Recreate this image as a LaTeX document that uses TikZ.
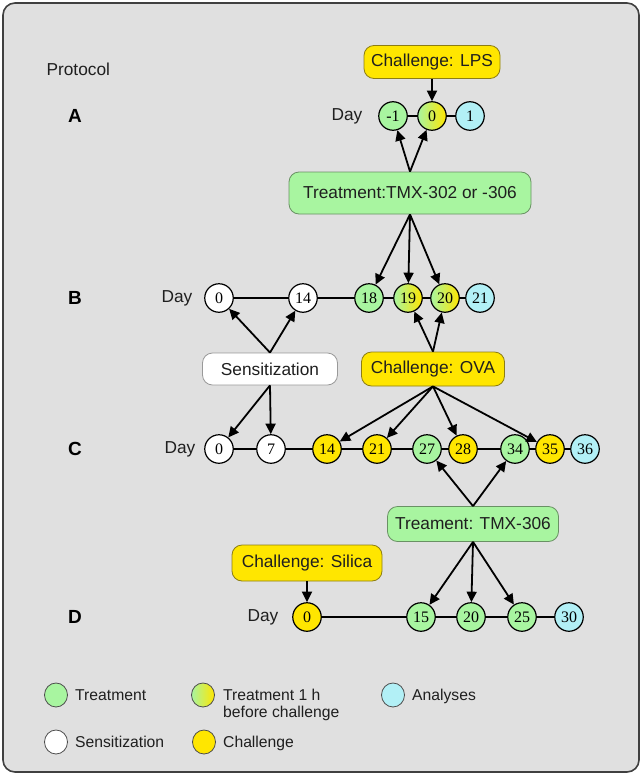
\documentclass[tikz,border=0pt]{standalone}
\usepackage{fontspec}
\setmainfont{Liberation Sans}
\newfontfamily\numfont{Liberation Serif}
\usetikzlibrary{positioning,arrows.meta,shapes.geometric}

\definecolor{treatgreen}{RGB}{168,245,160}
\definecolor{chalyellow}{RGB}{255,230,0}
\definecolor{anacyan}{RGB}{178,240,246}
\definecolor{panelgray}{RGB}{224,224,224}

\begin{document}
\begin{tikzpicture}[x=1pt, y=-1pt, on grid,
    txt/.style = {font=\fontsize{17.3}{20}\selectfont, text=black!88},
    keytxt/.style = {font=\fontsize{15.7}{16.5}\selectfont, text=black!88, inner sep=0pt, align=left},
    lbl/.style = {font=\bfseries\fontsize{19}{22}\selectfont},
    day/.style = {circle, draw, line width=1.2pt, minimum size=28.5pt, inner sep=0pt,
                  font=\numfont\fontsize{16}{16}\selectfont},
    trt/.style = {day, fill=treatgreen},
    chl/.style = {day, fill=chalyellow},
    ana/.style = {day, fill=anacyan},
    sns/.style = {day, fill=white},
    mix/.style = {day, left color=treatgreen, right color=chalyellow},
    box/.style = {txt, rounded corners=10pt, line width=0.8pt, inner sep=0pt},
    greenbox/.style = {box, fill=treatgreen, draw={rgb,255:red,105;green,145;blue,100}},
    yellowbox/.style = {box, fill=chalyellow, draw={rgb,255:red,140;green,125;blue,20}},
    whitebox/.style = {box, fill=white, draw=black!40},
    line/.style = {line width=2pt},
    arr/.style = {line width=1.8pt, -{Triangle[length=10.5pt,width=10pt]}},
    key/.style = {ellipse, draw=black!70, line width=0.8pt, minimum width=23pt,
                  minimum height=24pt, inner sep=0pt},
  ]
    \useasboundingbox (0,0) rectangle (642,776);
    \draw[fill=panelgray, draw=black!75, line width=1.6pt, rounded corners=12pt]
      (3,3) rectangle (639,772);

    \node[txt, anchor=west] (prot) at (43,69) {Protocol};
    \node[lbl] (la) at (75,116) {A};
    \node[lbl] (lb) at (75,298) {B};
    \node[lbl] (lc) at (75,449) {C};
    \node[lbl] (ld) at (75,617) {D};

    \node[trt] (a1) at (393,116) {-1};
    \node[mix, right = 39pt of a1] (a2) {0};
    \node[ana, right = 38pt of a2] (a3) {1};
    \node[txt, left = 46pt of a1] (aday) {Day};

    \node[sns] (b0) at (219,298) {0};
    \node[sns, right = 84pt of b0] (b14) {14};
    \node[trt, right = 66pt of b14] (b18) {18};
    \node[mix, right = 39pt of b18] (b19) {19};
    \node[mix, right = 37pt of b19] (b20) {20};
    \node[ana, right = 35pt of b20] (b21) {21};
    \node[txt, left = 42pt of b0] (bday) {Day};

    \node[sns] (c0) at (219,449) {0};
    \node[sns, right = 52pt of c0] (c7) {7};
    \node[chl, right = 56pt of c7] (c14) {14};
    \node[chl, right = 50pt of c14] (c21) {21};
    \node[trt, right = 50pt of c21] (c27) {27};
    \node[chl, right = 36pt of c27] (c28) {28};
    \node[trt, right = 52pt of c28] (c34) {34};
    \node[chl, right = 35pt of c34] (c35) {35};
    \node[ana, right = 35pt of c35] (c36) {36};
    \node[txt, left = 39pt of c0] (cday) {Day};

    \node[chl] (d0) at (307,617) {0};
    \node[trt, right = 114pt of d0] (d15) {15};
    \node[trt, right = 50pt of d15] (d20) {20};
    \node[trt, right = 51pt of d20] (d25) {25};
    \node[ana, right = 47pt of d25] (d30) {30};
    \node[txt, left = 44pt of d0] (dday) {Day};

    \node[yellowbox, minimum width=136pt, minimum height=33pt] (lps) at (432,62) {Challenge: LPS};
    \node[greenbox, minimum width=242pt, minimum height=42pt] (tra) at (410,193) {Treatment:TMX-302 or -306};
    \node[whitebox, minimum width=135pt, minimum height=32pt] (sens) at (270,369) {Sensitization};
    \node[yellowbox, minimum width=143pt, minimum height=34pt] (ova) at (433,369) {Challenge: OVA};
    \node[greenbox, minimum width=171pt, minimum height=35pt] (tmx) at (473,524) {Treament: TMX-306};
    \node[yellowbox, minimum width=150pt, minimum height=36pt] (sil) at (307,563) {Challenge: Silica};

    \draw[line] (a1) -- (a2) -- (a3);
    \draw[line] (b0) -- (b14) -- (b18) -- (b19) -- (b20) -- (b21);
    \draw[line] (c0) -- (c7) -- (c14) -- (c21) -- (c27) -- (c28) -- (c34) -- (c35) -- (c36);
    \draw[line] (d0) -- (d15) -- (d20) -- (d25) -- (d30);

    \draw[arr] (lps) -- (a2);
    \draw[arr] (tra.north) -- (a1);
    \draw[arr] (tra.north) -- (a2);
    \draw[arr] (tra.south) -- (b18);
    \draw[arr] (tra.south) -- (b19);
    \draw[arr] (tra.south) -- (b20);
    \draw[arr] (sens.north) -- (b0);
    \draw[arr] (sens.north) -- (b14);
    \draw[arr] (ova.north) -- (b19);
    \draw[arr] (ova.north) -- (b20);
    \draw[arr] (sens.south) -- (c0);
    \draw[arr] (sens.south) -- (c7);
    \draw[arr] (ova.south) -- (c14);
    \draw[arr] (ova.south) -- (c21);
    \draw[arr] (ova.south) -- (c28);
    \draw[arr] (ova.south) -- (c35);
    \draw[arr] (tmx.north) -- (c27);
    \draw[arr] (tmx.north) -- (c34);
    \draw[arr] (tmx.south) -- (d15);
    \draw[arr] (tmx.south) -- (d20);
    \draw[arr] (tmx.south) -- (d25);
    \draw[arr] (sil) -- (d0);

    \node[key, fill=treatgreen] (k1) at (56,695) {};
    \node[key, left color=treatgreen, right color=chalyellow] (k2) at (203,695) {};
    \node[key, fill=anacyan] (k3) at (393,695) {};
    \node[key, fill=white] (k4) at (56,742) {};
    \node[key, fill=chalyellow] (k5) at (204,742) {};
    \node[keytxt, anchor=base west] (k1t) at (75,700.6) {Treatment};
    \node[keytxt, anchor=base west] (k2t) at (223,717.1) {Treatment 1 h\\before challenge};
    \node[keytxt, anchor=base west] (k3t) at (412,700.6) {Analyses};
    \node[keytxt, anchor=base west] (k4t) at (75,747.5) {Sensitization};
    \node[keytxt, anchor=base west] (k5t) at (223,747.5) {Challenge};
  \end{tikzpicture}
\end{document}
